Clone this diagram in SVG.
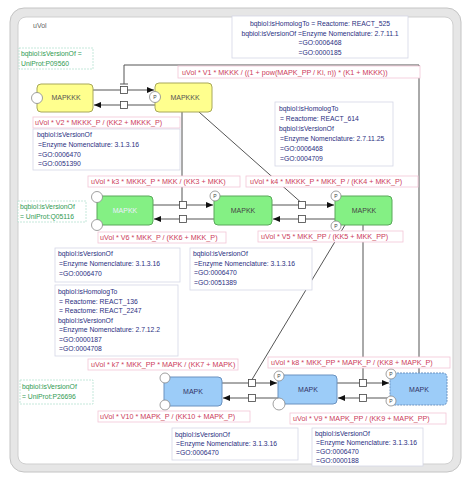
<svg xmlns="http://www.w3.org/2000/svg" width="467" height="477" viewBox="0 0 467 477">
<style>
text{font-family:"Liberation Sans",Arial,sans-serif}
.ann{font-size:6.8px;fill:#2b2f7f}
.annbox{fill:#fff;stroke:#d4d6e6;stroke-width:0.8}
.rate{font-size:7.2px;fill:#cc3b5a}
.ratebox{fill:#fff;stroke:#f2c6d6;stroke-width:0.8}
.uni{font-size:6.8px;fill:#2f9a52}
.unibox{fill:#fff;stroke:#b6e2d2;stroke-width:0.8;stroke-dasharray:2 1}
.sp{font-size:7px;text-anchor:middle}
.conn{stroke:#555;stroke-width:1;fill:none}
.sq{fill:#fff;stroke:#444;stroke-width:0.8}
.res{fill:#fff;stroke:#888;stroke-width:0.8}
.rl{font-size:5px;fill:#444;text-anchor:middle}
.y{fill:#ffff8e;stroke:#a8a85a;stroke-width:1}
.g{fill:#84f084;stroke:#5aa85a;stroke-width:1}
.b{fill:#9cccf8;stroke:#6a92c0;stroke-width:1}
</style>
<defs>
<marker id="arr" markerUnits="userSpaceOnUse" markerWidth="8" markerHeight="6" refX="7" refY="3" orient="auto">
<path d="M0,0 L7,3 L0,6 z" fill="#111"/>
</marker>
</defs>
<rect width="467" height="477" fill="#fff"/>
<g id="compartment">
<rect x="10" y="8" width="451" height="464" rx="14" fill="#e6e6e6" stroke="#c4c4c4"/>
<rect x="18" y="17" width="435" height="447" rx="8" fill="#fff" stroke="#cfcfcf"/>
<text x="33" y="28" style="font-size:7px;fill:#666">uVol</text>
</g>
<g id="connectors">
<path class="conn" d="M93,90 H154" marker-end="url(#arr)"/>
<path class="conn" d="M155,105 H94" marker-end="url(#arr)"/>
<path class="conn" d="M419,373 V65 H124 V84"/>
<path class="conn" d="M120,84 H128"/>
<path class="conn" d="M182,112 V201.5"/>
<path class="conn" d="M199,112 L300,201.5"/>
<path class="conn" d="M153,205 H213" marker-end="url(#arr)"/>
<path class="conn" d="M214,219 H154" marker-end="url(#arr)"/>
<path class="conn" d="M272,205 H334" marker-end="url(#arr)"/>
<path class="conn" d="M335,219 H273" marker-end="url(#arr)"/>
<path class="conn" d="M345,225 L252,379.5"/>
<path class="conn" d="M363,225 V379.5"/>
<path class="conn" d="M222,383 H277" marker-end="url(#arr)"/>
<path class="conn" d="M278,398 H223" marker-end="url(#arr)"/>
<path class="conn" d="M337,383 H389" marker-end="url(#arr)"/>
<path class="conn" d="M390,398 H338" marker-end="url(#arr)"/>
<rect class="sq" x="120.5" y="86.5" width="7" height="7"/>
<rect class="sq" x="120.5" y="101.5" width="7" height="7"/>
<rect class="sq" x="179.5" y="201.5" width="7" height="7"/>
<rect class="sq" x="179.5" y="215.5" width="7" height="7"/>
<rect class="sq" x="298.5" y="201.5" width="7" height="7"/>
<rect class="sq" x="298.5" y="215.5" width="7" height="7"/>
<rect class="sq" x="248.5" y="379.5" width="7" height="7"/>
<rect class="sq" x="248.5" y="394.5" width="7" height="7"/>
<rect class="sq" x="359.5" y="379.5" width="7" height="7"/>
<rect class="sq" x="359.5" y="394.5" width="7" height="7"/>
</g>
<g id="MAPKKK">
<rect class="y" x="37" y="84" width="56" height="28" rx="4"/>
<circle class="res" cx="37" cy="98" r="5.5"/>
<text class="sp" x="66" y="100" fill="#555">MAPKKK</text>
</g>
<g id="MAPKKK_P">
<rect class="y" x="155" y="83" width="57" height="29" rx="4"/>
<circle class="res" cx="155" cy="97" r="5.5"/>
<text class="rl" x="155" y="99">P</text>
<text class="sp" x="185" y="100" fill="#555">MAPKKK</text>
</g>
<g id="MAPKK">
<rect class="g" x="97" y="196" width="56" height="29" rx="4"/>
<circle class="res" cx="97" cy="197" r="5.5"/>
<circle class="res" cx="97" cy="225" r="5.5"/>
<text class="sp" x="125" y="213" fill="#eef">MAPKK</text>
</g>
<g id="MAPKK_P">
<rect class="g" x="214" y="196" width="58" height="29" rx="4"/>
<circle class="res" cx="215" cy="196" r="5"/>
<text class="rl" x="215" y="198">P</text>
<text class="sp" x="243" y="213" fill="#444">MAPKK</text>
</g>
<g id="MAPKK_PP">
<rect class="g" x="335" y="196" width="57" height="29" rx="4"/>
<circle class="res" cx="336" cy="196" r="5"/>
<text class="rl" x="336" y="198">P</text>
<circle class="res" cx="336" cy="226" r="5"/>
<text class="rl" x="336" y="228">P</text>
<text class="sp" x="364" y="213" fill="#444">MAPKK</text>
</g>
<g id="MAPK">
<rect class="b" x="164" y="377" width="58" height="29" rx="4"/>
<circle class="res" cx="165" cy="378" r="5"/>
<circle class="res" cx="165" cy="405" r="5"/>
<text class="sp" x="193" y="394" fill="#336">MAPK</text>
</g>
<g id="MAPK_P">
<rect class="b" x="278" y="375" width="59" height="29" rx="4"/>
<circle class="res" cx="279" cy="376" r="5"/>
<text class="rl" x="279" y="378">P</text>
<circle class="res" cx="279" cy="404" r="6"/>
<text class="sp" x="308" y="392" fill="#336">MAPK</text>
</g>
<g id="MAPK_PP">
<rect class="b" x="390" y="373" width="57" height="32" rx="4" stroke-dasharray="2 1"/>
<circle class="res" cx="391" cy="374" r="5"/>
<text class="rl" x="391" y="376">P</text>
<circle class="res" cx="391" cy="401" r="5"/>
<text class="rl" x="391" y="403">P</text>
<text class="sp" x="419" y="392" fill="#336">MAPK</text>
</g>
<g id="rate-labels">
<rect class="ratebox" x="178" y="66" width="242" height="12"/>
<text class="rate" x="182" y="74.5">uVol * V1 * MKKK / ((1 + pow(MAPK_PP / Ki, n)) * (K1 + MKKK))</text>
<rect class="ratebox" x="33" y="117" width="147" height="11"/>
<text class="rate" x="35" y="125">uVol * V2 * MKKK_P / (KK2 + MKKK_P)</text>
<rect class="ratebox" x="88" y="176" width="152" height="11"/>
<text class="rate" x="91" y="184">uVol * k3 * MKKK_P * MKK / (KK3 + MKK)</text>
<rect class="ratebox" x="246" y="176" width="172" height="11"/>
<text class="rate" x="250" y="184">uVol * k4 * MKKK_P * MKK_P / (KK4 + MKK_P)</text>
<rect class="ratebox" x="98" y="232" width="128" height="11"/>
<text class="rate" x="100" y="240">uVol * V6 * MKK_P / (KK6 + MKK_P)</text>
<rect class="ratebox" x="258" y="231" width="145" height="11"/>
<text class="rate" x="261" y="239">uVol * V5 * MKK_PP / (KK5 + MKK_PP)</text>
<rect class="ratebox" x="88" y="359" width="150" height="11"/>
<text class="rate" x="91" y="367">uVol * k7 * MKK_PP * MAPK / (KK7 + MAPK)</text>
<rect class="ratebox" x="268" y="357" width="182" height="11"/>
<text class="rate" x="271" y="365">uVol * k8 * MKK_PP * MAPK_P / (KK8 + MAPK_P)</text>
<rect class="ratebox" x="98" y="411" width="152" height="11"/>
<text class="rate" x="100" y="419">uVol * V10 * MAPK_P / (KK10 + MAPK_P)</text>
<rect class="ratebox" x="290" y="413" width="156" height="11"/>
<text class="rate" x="293" y="421">uVol * V9 * MAPK_PP / (KK9 + MAPK_PP)</text>
</g>
<g id="annotations">
<rect class="annbox" x="232" y="16" width="176" height="42"/>
<text class="ann" text-anchor="middle"><tspan x="320" y="26">bqbiol:isHomologTo = Reactome: REACT_525</tspan><tspan x="320" y="35.5">bqbiol:isVersionOf =Enzyme Nomenclature: 2.7.11.1</tspan><tspan x="320" y="45">=GO:0006468</tspan><tspan x="320" y="54.5">=GO:0000185</tspan></text>
<rect class="annbox" x="33" y="129" width="147" height="41"/>
<text class="ann"><tspan x="37" y="137">bqbiol:isVersionOf</tspan><tspan x="38" y="147">=Enzyme Nomenclature: 3.1.3.16</tspan><tspan x="38" y="156.5">=GO:0006470</tspan><tspan x="38" y="166">=GO:0051390</tspan></text>
<rect class="annbox" x="275" y="102" width="118" height="64"/>
<text class="ann"><tspan x="279" y="110.5">bqbiol:isHomologTo</tspan><tspan x="280" y="120.5">= Reactome: REACT_614</tspan><tspan x="279" y="130.5">bqbiol:isVersionOf</tspan><tspan x="280" y="140.5">=Enzyme Nomenclature: 2.7.11.25</tspan><tspan x="280" y="150.5">=GO:0006468</tspan><tspan x="280" y="160.5">=GO:0004709</tspan></text>
<rect class="annbox" x="55" y="248" width="125" height="34"/>
<text class="ann"><tspan x="58" y="256">bqbiol:isVersionOf</tspan><tspan x="59" y="266">=Enzyme Nomenclature: 3.1.3.16</tspan><tspan x="59" y="276">=GO:0006470</tspan></text>
<rect class="annbox" x="190" y="248" width="122" height="42"/>
<text class="ann"><tspan x="193" y="256">bqbiol:isVersionOf</tspan><tspan x="194" y="265.5">=Enzyme Nomenclature: 3.1.3.16</tspan><tspan x="194" y="275">=GO:0006470</tspan><tspan x="194" y="284.5">=GO:0051389</tspan></text>
<rect class="annbox" x="55" y="285" width="123" height="71"/>
<text class="ann"><tspan x="58" y="294">bqbiol:isHomologTo</tspan><tspan x="59" y="303.5">= Reactome: REACT_136</tspan><tspan x="59" y="313">= Reactome: REACT_2247</tspan><tspan x="58" y="322.5">bqbiol:isVersionOf</tspan><tspan x="59" y="332">=Enzyme Nomenclature: 2.7.12.2</tspan><tspan x="59" y="341.5">=GO:0000187</tspan><tspan x="59" y="351">=GO:0004708</tspan></text>
<rect class="annbox" x="172" y="428" width="126" height="32"/>
<text class="ann"><tspan x="175" y="437">bqbiol:isVersionOf</tspan><tspan x="176" y="446">=Enzyme Nomenclature: 3.1.3.16</tspan><tspan x="176" y="455">=GO:0006470</tspan></text>
<rect class="annbox" x="312" y="428" width="111" height="38"/>
<text class="ann"><tspan x="315" y="436">bqbiol:isVersionOf</tspan><tspan x="316" y="445">=Enzyme Nomenclature: 3.1.3.16</tspan><tspan x="316" y="454">=GO:0006470</tspan><tspan x="316" y="463">=GO:0000188</tspan></text>
</g>
<g id="species-annotations">
<rect class="unibox" x="19" y="48" width="74" height="21"/>
<text class="uni"><tspan x="21" y="56">bqbiol:isVersionOf =</tspan><tspan x="21" y="66">UniProt:P09560</tspan></text>
<rect class="unibox" x="18" y="201" width="68" height="21"/>
<text class="uni"><tspan x="20" y="209">bqbiol:isVersionOf</tspan><tspan x="20" y="219">= UniProt:Q05116</tspan></text>
<rect class="unibox" x="20" y="380" width="73" height="24"/>
<text class="uni"><tspan x="22" y="389">bqbiol:isVersionOf</tspan><tspan x="22" y="399">= UniProt:P26696</tspan></text>
</g>
</svg>
